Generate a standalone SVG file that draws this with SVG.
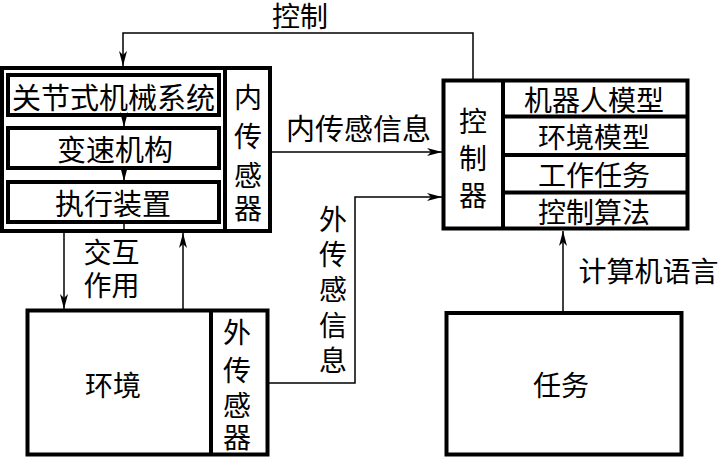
<svg xmlns="http://www.w3.org/2000/svg" width="722" height="458" viewBox="0 0 722 458">
<style>
  .box{fill:#fff;stroke:#000;stroke-width:4}
  .div{fill:none;stroke:#000;stroke-width:4}
  .ln{fill:none;stroke:#000;stroke-width:1.5}
  text{font-family:"Noto Sans CJK SC","Noto Sans CJK TC",sans-serif;font-size:28px;fill:#000;text-anchor:middle;dominant-baseline:central}
</style>
<defs>
  <marker id="ah" markerUnits="userSpaceOnUse" markerWidth="16" markerHeight="8" refX="15" refY="4" orient="auto">
    <path d="M0,0 L15,4 L0,8 L4,4 z" fill="#000"/>
  </marker>
</defs>
<rect width="722" height="458" fill="#fff"/>

<g id="robot">
  <rect class="box" x="2" y="68" width="268" height="163"/>
  <line class="div" x1="225" y1="68" x2="225" y2="231"/>
  <rect class="box" x="8" y="75" width="211" height="40"/>
  <rect class="box" x="8" y="128" width="211" height="40"/>
  <rect class="box" x="8" y="182" width="211" height="40"/>
  <text x="113.5" y="96" style="font-size:29px">关节式机械系统</text>
  <text x="115" y="148" style="font-size:29px">变速机构</text>
  <text x="113" y="202" style="font-size:29px">执行装置</text>
  <text x="248" y="96">内</text>
  <text x="248" y="135">传</text>
  <text x="248" y="174">感</text>
  <text x="248" y="207">器</text>
</g>

<g id="controller">
  <rect class="box" x="443.5" y="80.5" width="244" height="148"/>
  <line class="div" x1="503" y1="80.5" x2="503" y2="228.5"/>
  <line class="div" x1="503" y1="116.5" x2="687.5" y2="116.5"/>
  <line class="div" x1="503" y1="155" x2="687.5" y2="155"/>
  <line class="div" x1="503" y1="192.5" x2="687.5" y2="192.5"/>
  <text x="473" y="120">控</text>
  <text x="473" y="157">制</text>
  <text x="473" y="194">器</text>
  <text x="594" y="99">机器人模型</text>
  <text x="594" y="136">环境模型</text>
  <text x="594" y="174">工作任务</text>
  <text x="594" y="210.5">控制算法</text>
</g>

<g id="environment">
  <rect class="box" x="27.5" y="310.5" width="240" height="144"/>
  <line class="div" x1="211" y1="310.5" x2="211" y2="454.5"/>
  <text x="113" y="383.5">环境</text>
  <text x="237" y="331">外</text>
  <text x="237" y="369">传</text>
  <text x="237" y="404">感</text>
  <text x="237" y="436">器</text>
</g>

<g id="task">
  <rect class="box" x="446.5" y="313" width="235" height="141.5"/>
  <text x="561" y="383.5">任务</text>
</g>

<g id="connectors">
  <line class="ln" x1="124" y1="115" x2="124" y2="127" marker-end="url(#ah)"/>
  <line class="ln" x1="124" y1="168" x2="124" y2="181" marker-end="url(#ah)"/>
  <line class="ln" x1="124" y1="222" x2="124" y2="229"/>
  <polyline class="ln" points="473,80 473,33 123,33 123,66" marker-end="url(#ah)"/>
  <line class="ln" x1="270" y1="152" x2="442" y2="152" marker-end="url(#ah)"/>
  <polyline class="ln" points="268,383 355,383 355,197 442,197" marker-end="url(#ah)"/>
  <line class="ln" x1="64" y1="233" x2="64" y2="309" marker-end="url(#ah)"/>
  <line class="ln" x1="183" y1="309" x2="183" y2="233" marker-end="url(#ah)"/>
  <line class="ln" x1="563" y1="311" x2="563" y2="231" marker-end="url(#ah)"/>
  <text x="300" y="15">控制</text>
  <text x="358.5" y="127" style="font-size:29px">内传感信息</text>
  <text x="111.5" y="251">交互</text>
  <text x="111.5" y="284">作用</text>
  <text x="333" y="218">外</text>
  <text x="333" y="253">传</text>
  <text x="333" y="288">感</text>
  <text x="333" y="324">信</text>
  <text x="333" y="359">息</text>
  <text x="648.5" y="270">计算机语言</text>
</g>
</svg>
